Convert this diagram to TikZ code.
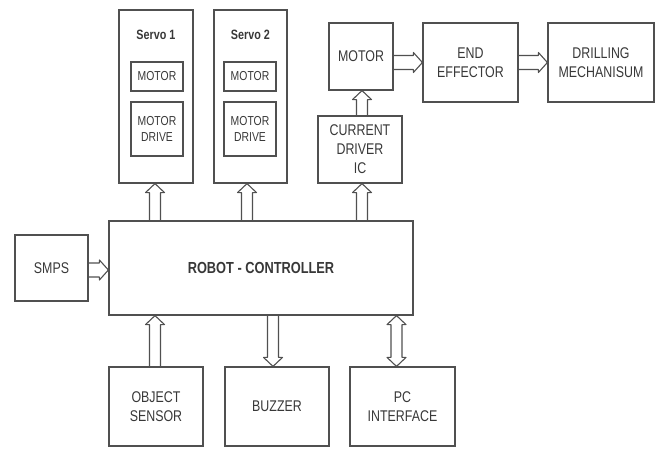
\documentclass[tikz,border=0pt]{standalone}
\usepackage{fontspec}
\setmainfont{Liberation Sans}[FakeStretch=0.8]
\usetikzlibrary{calc}
\definecolor{linec}{HTML}{505050}
\definecolor{textc}{HTML}{383838}
\newcommand\arrsw{5.5}
\newcommand\arrhw{9.5}
\newcommand\arrhl{9}
\newcommand\uarr[2]{\draw[arr] ($(#1)+(-\arrsw,0)$) -- ($(#2)+(-\arrsw,\arrhl)$) -- ($(#2)+(-\arrhw,\arrhl)$) -- (#2) -- ($(#2)+(\arrhw,\arrhl)$) -- ($(#2)+(\arrsw,\arrhl)$) -- ($(#1)+(\arrsw,0)$);}
\newcommand\darr[2]{\draw[arr] ($(#1)+(-\arrsw,0)$) -- ($(#2)+(-\arrsw,-\arrhl)$) -- ($(#2)+(-\arrhw,-\arrhl)$) -- (#2) -- ($(#2)+(\arrhw,-\arrhl)$) -- ($(#2)+(\arrsw,-\arrhl)$) -- ($(#1)+(\arrsw,0)$);}
\newcommand\rarr[2]{\draw[arr] ($(#1)+(0,-7)$) -- ($(#2)+(-\arrhl,-7)$) -- ($(#2)+(-\arrhl,-10)$) -- (#2) -- ($(#2)+(-\arrhl,10)$) -- ($(#2)+(-\arrhl,7)$) -- ($(#1)+(0,7)$);}
\newcommand\udarr[2]{\draw[arr] (#1) -- ($(#1)+(\arrhw,\arrhl)$) -- ($(#1)+(\arrsw,\arrhl)$) -- ($(#2)+(\arrsw,-\arrhl)$) -- ($(#2)+(\arrhw,-\arrhl)$) -- (#2) -- ($(#2)+(-\arrhw,-\arrhl)$) -- ($(#2)+(-\arrsw,-\arrhl)$) -- ($(#1)+(-\arrsw,\arrhl)$) -- ($(#1)+(-\arrhw,\arrhl)$) -- cycle;}
\begin{document}
\begin{tikzpicture}[x=1pt,y=-1pt,
  box/.style={draw=linec, line width=1.2pt, inner sep=0pt, align=center, text=textc,
    font=\fontsize{15.5}{19}\selectfont},
  smallbox/.style={box, font=\fontsize{13}{16}\selectfont},
  arr/.style={draw=linec, line width=1.1pt, line join=round}]
\useasboundingbox (0,0) rectangle (660,449);
% servos
\node[box, minimum width=74, minimum height=173] (s1) at (156,96.5) {};
\node[text=textc, font=\fontsize{13.5}{16}\selectfont\bfseries] (s1l) at (156,35) {Servo 1};
\node[smallbox, minimum width=52, minimum height=29] (s1m) at (157,76.5) {MOTOR};
\node[smallbox, minimum width=52, minimum height=54] (s1d) at (157,129) {MOTOR\\DRIVE};
\node[box, minimum width=73, minimum height=173] (s2) at (250.5,96.5) {};
\node[text=textc, font=\fontsize{13.5}{16}\selectfont\bfseries] (s2l) at (250.5,35) {Servo 2};
\node[smallbox, minimum width=52, minimum height=29] (s2m) at (250,76.5) {MOTOR};
\node[smallbox, minimum width=52, minimum height=54] (s2d) at (250,129) {MOTOR\\DRIVE};
% top right chain
\node[box, minimum width=64, minimum height=67] (mot) at (361,56.5) {MOTOR};
\node[box, minimum width=95, minimum height=79] (ee) at (470.5,62.5) {END\\EFFECTOR};
\node[box, minimum width=106, minimum height=79] (dm) at (601,62.5) {DRILLING\\MECHANISUM};
\node[box, minimum width=84, minimum height=67] (cd) at (360,149.5) {CURRENT\\DRIVER\\IC};
% controller and power
\node[box, minimum width=304, minimum height=94, font=\fontsize{16}{19}\selectfont\bfseries] (ctrl) at (261,268) {ROBOT - CONTROLLER};
\node[box, minimum width=73, minimum height=66] (smps) at (51.5,268) {SMPS};
% bottom row
\node[box, minimum width=94, minimum height=79] (os) at (156,406.5) {OBJECT\\SENSOR};
\node[box, minimum width=104, minimum height=79] (bz) at (277,406.5) {BUZZER};
\node[box, minimum width=105, minimum height=79] (pc) at (402.5,406.5) {PC\\INTERFACE};
% arrow end points
\coordinate (a1f) at ($(s1.south |- ctrl.north)+(-1,0)$);
\coordinate (a1t) at ($(s1.south)+(-1,0)$);
\coordinate (a2f) at ($(s2.south |- ctrl.north)+(-3.5,0)$);
\coordinate (a2t) at ($(s2.south)+(-3.5,0)$);
\coordinate (a3f) at ($(cd.south |- ctrl.north)+(2,0)$);
\coordinate (a3t) at ($(cd.south)+(2,0)$);
\coordinate (a4f) at ($(cd.north)+(2,0)$);
\coordinate (a4t) at ($(cd.north |- mot.south)+(2,0)$);
\coordinate (a5f) at (mot.east |- ee.west);
\coordinate (a6f) at (ee.east);
\coordinate (a7f) at ($(smps.east)+(0,2)$);
\coordinate (a7t) at ($(ctrl.west |- smps.east)+(0,2)$);
\coordinate (a8f) at ($(os.north)+(-1,0)$);
\coordinate (a8t) at ($(os.north |- ctrl.south)+(-1,0)$);
\coordinate (a9f) at ($(bz.north |- ctrl.south)+(-4,0)$);
\coordinate (a9t) at ($(bz.north)+(-4,0)$);
\coordinate (a10f) at ($(pc.north |- ctrl.south)+(-6,0)$);
\coordinate (a10t) at ($(pc.north)+(-6,0)$);
% arrows
\uarr{a1f}{a1t}
\uarr{a2f}{a2t}
\uarr{a3f}{a3t}
\uarr{a4f}{a4t}
\rarr{a5f}{ee.west}
\rarr{a6f}{dm.west}
\rarr{a7f}{a7t}
\uarr{a8f}{a8t}
\darr{a9f}{a9t}
\udarr{a10f}{a10t}
\end{tikzpicture}
\end{document}
